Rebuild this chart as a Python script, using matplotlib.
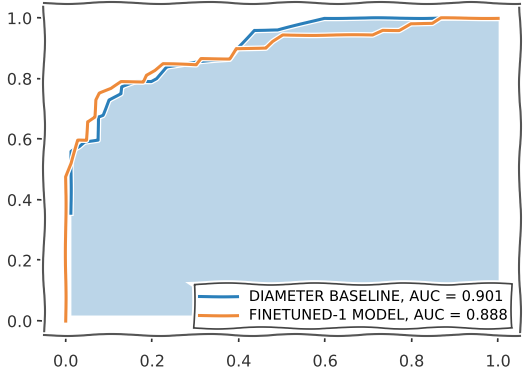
import matplotlib
matplotlib.use("Agg")
import matplotlib.pyplot as plt

# ROC points
base_fpr = [0.012, 0.012, 0.013, 0.032, 0.044, 0.075, 0.075, 0.086, 0.10, 0.128, 0.13,
            0.163, 0.198, 0.21, 0.233, 0.31, 0.379, 0.40, 0.436, 0.49, 0.598, 1.0]
base_tpr = [0.356, 0.50, 0.56, 0.575, 0.59, 0.597, 0.674, 0.68, 0.73, 0.75, 0.773,
            0.79, 0.79, 0.80, 0.84, 0.856, 0.864, 0.905, 0.96, 0.96, 1.0, 1.0]

ft_fpr = [0.0, 0.0, 0.013, 0.028, 0.048, 0.05, 0.067, 0.07, 0.078, 0.105, 0.128,
          0.179, 0.186, 0.206, 0.225, 0.302, 0.313, 0.379, 0.394, 0.463, 0.479,
          0.502, 0.71, 0.733, 0.771, 0.798, 0.848, 0.868, 1.0]
ft_tpr = [0.0, 0.476, 0.52, 0.597, 0.597, 0.658, 0.674, 0.73, 0.752, 0.767, 0.79,
          0.79, 0.812, 0.828, 0.85, 0.845, 0.866, 0.866, 0.90, 0.90, 0.922,
          0.944, 0.944, 0.96, 0.96, 0.982, 0.982, 1.0, 1.0]

labels = ["DIAMETER BASELINE, AUC = 0.901", "FINETUNED-1 MODEL, AUC = 0.888"]
fill_floor = 0.02

plt.xkcd(scale=1, length=100, randomness=2)
plt.rcParams['font.family'] = ['DejaVu Sans']

fig = plt.figure(figsize=(5.25, 3.71), dpi=100)
ax = fig.add_axes([0.084, 0.097, 0.906, 0.895])

ax.fill_between(base_fpr, base_tpr, fill_floor, color='#1f77b4', alpha=0.3, lw=0)
l1, = ax.plot(base_fpr, base_tpr, color='#2a7fba', lw=2.2, label=labels[0])
l2, = ax.plot(ft_fpr, ft_tpr, color='#ee8a3a', lw=2.2, label=labels[1])
for ln in (l1, l2):
    ln.set_sketch_params(scale=0.35, length=100, randomness=2)

ax.set_xlim(-0.05, 1.05)
ax.set_ylim(-0.046, 1.05)
ax.set_xticks([0.0, 0.2, 0.4, 0.6, 0.8, 1.0])
ax.set_yticks([0.0, 0.2, 0.4, 0.6, 0.8, 1.0])
ax.tick_params(labelsize=11.5, colors='#333333', length=5, width=1.2)
ax.tick_params(axis='x', pad=9)
for s in ax.spines.values():
    s.set_color('#555555')
    s.set_linewidth(1.5)

leg = ax.legend(loc='lower right', fontsize=10.5, fancybox=False, framealpha=1,
                edgecolor='#444444', borderaxespad=0.5, handlelength=2.6,
                borderpad=0.35, labelspacing=0.25)
leg.get_frame().set_linewidth(1.2)

fig.savefig('out.png', dpi=100)
